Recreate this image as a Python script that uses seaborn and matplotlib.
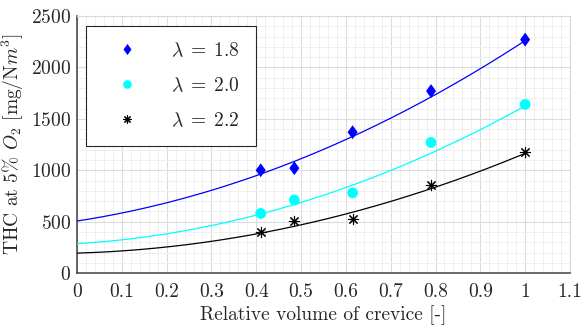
import numpy as np
import pandas as pd
import matplotlib
matplotlib.use("Agg")
import matplotlib.pyplot as plt
from matplotlib.ticker import MultipleLocator
from matplotlib.lines import Line2D
import seaborn as sns

# Measured THC emissions vs. relative crevice volume for three air ratios
crevice = [0.41, 0.485, 0.615, 0.79, 1.0]
thc_18 = [1000, 1020, 1370, 1770, 2270]
thc_20 = [580, 710, 780, 1270, 1640]
thc_22 = [400, 510, 530, 860, 1175]
lambdas = ["1.8", "2.0", "2.2"]

# Quadratic trend lines y = c0 + c1*x + c2*x^2 (one entry per air ratio)
trend_c0 = [506, 286, 194]
trend_c1 = [670, 264, 130]
trend_c2 = [1084, 1075, 840]

colors = ["#0000ff", "#00ffff", "#000000"]

# tall diamond, filled circle, eight-spoke asterisk
diamond = [(0, 1), (0.72, 0), (0, -1), (-0.72, 0), (0, 1)]
markers = [diamond, "o", (8, 2, 0)]
msizes = [100, 60, 55]

sns.set_style("white")
plt.rcParams["font.family"] = ["cmr10", "DejaVu Serif"]
plt.rcParams["mathtext.fontset"] = "cm"
plt.rcParams["axes.formatter.use_mathtext"] = True
plt.rcParams["axes.unicode_minus"] = False

fig = plt.figure(figsize=(5.81, 3.29), dpi=100)
ax = fig.add_axes([0.1325, 0.170, 0.8485, 0.7815])

series = [thc_18, thc_20, thc_22]
xfit = np.linspace(0, 1, 200)
handles = []
for i, (lam, vals, c, m, s) in enumerate(zip(lambdas, series, colors, markers, msizes)):
    df = pd.DataFrame({"x": crevice, "y": vals})
    fit = pd.DataFrame({"x": xfit,
                        "y": trend_c0[i] + trend_c1[i] * xfit + trend_c2[i] * xfit ** 2})
    sns.lineplot(data=fit, x="x", y="y", color=c, lw=0.9, ax=ax, zorder=3)
    if isinstance(m, tuple):
        kw = dict(color=c, edgecolor=c, linewidth=0.8)
    else:
        kw = dict(color=c, edgecolor="none")
    sns.scatterplot(data=df, x="x", y="y", marker=m, s=s, ax=ax, zorder=4, **kw)
    handles.append(Line2D([], [], ls="none", marker=m, color=c,
                          markersize=np.sqrt(s) * 0.8, markeredgewidth=0.8 if isinstance(m, tuple) else 0,
                          label=rf"$\lambda\;=\;{lam}$"))

ax.set_xlim(0, 1.1)
ax.set_ylim(0, 2500)
ax.xaxis.set_minor_locator(MultipleLocator(0.02))
ax.yaxis.set_major_locator(MultipleLocator(500))
ax.yaxis.set_minor_locator(MultipleLocator(100))
ax.set_xticks(np.arange(0, 1.11, 0.1))
ax.set_xticklabels(["0", "0.1", "0.2", "0.3", "0.4", "0.5", "0.6", "0.7", "0.8", "0.9", "1", "1.1"])

ax.grid(which="major", color="#dcdcdc", lw=0.8)
ax.grid(which="minor", color="#efefef", lw=0.7)
ax.set_axisbelow(True)

for side in ["left", "bottom"]:
    ax.spines[side].set_color("#404040")
    ax.spines[side].set_linewidth(1.1)
for side in ["top", "right"]:
    ax.spines[side].set_color("#d8d8d8")
    ax.spines[side].set_linewidth(0.8)

ax.tick_params(which="major", direction="in", length=5, width=0.9, color="#404040",
               labelsize=14, labelcolor="#262626")
ax.tick_params(axis="x", which="major", pad=7)
ax.tick_params(axis="y", which="major", pad=4)
ax.tick_params(which="minor", length=0)

ax.set_xlabel("Relative volume of crevice [-]", fontsize=14, color="#262626", labelpad=3)
ax.set_ylabel(r"THC at 5% $O_2$ [mg/N$m^3$]", fontsize=14, color="#262626", labelpad=4)

leg = ax.legend(handles=handles, loc="upper left", bbox_to_anchor=(0.018, 0.961),
                borderaxespad=0, fontsize=14, frameon=True, fancybox=False,
                edgecolor="#262626", framealpha=1, handlelength=2.6, handletextpad=1.0,
                labelspacing=0.85, borderpad=0.8)
leg.get_frame().set_linewidth(0.8)
for t in leg.get_texts():
    t.set_color("#262626")

fig.savefig("out.png", dpi=100)
